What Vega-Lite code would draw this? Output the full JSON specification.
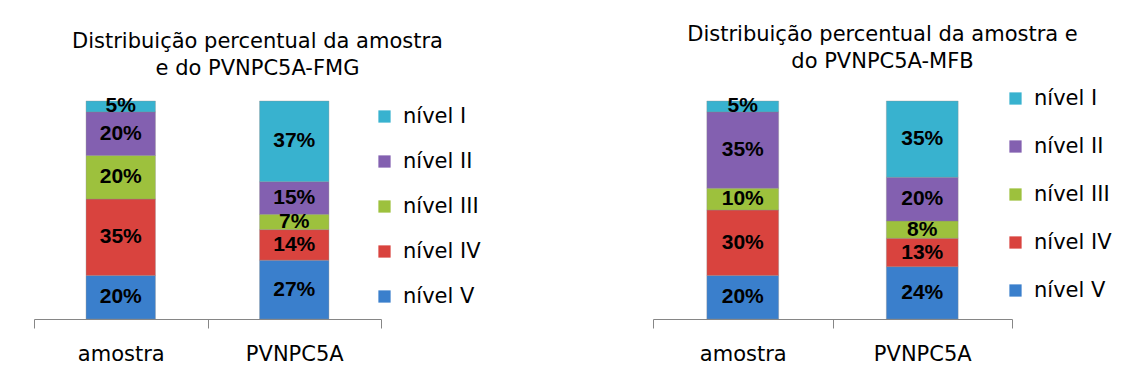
{
  "$schema": "https://vega.github.io/schema/vega-lite/v6.json",
  "padding": {"left": 33, "top": 24, "right": 5, "bottom": 5},
  "background": "white",
  "bounds": "flush",
  "spacing": 272,
  "datasets": {
    "d": [
      {"panel": "FMG", "cat": "amostra", "level": "nível V", "ord": 1, "v": 0.20},
      {"panel": "FMG", "cat": "amostra", "level": "nível IV", "ord": 2, "v": 0.35},
      {"panel": "FMG", "cat": "amostra", "level": "nível III", "ord": 3, "v": 0.20},
      {"panel": "FMG", "cat": "amostra", "level": "nível II", "ord": 4, "v": 0.20},
      {"panel": "FMG", "cat": "amostra", "level": "nível I", "ord": 5, "v": 0.05},
      {"panel": "FMG", "cat": "PVNPC5A", "level": "nível V", "ord": 1, "v": 0.27},
      {"panel": "FMG", "cat": "PVNPC5A", "level": "nível IV", "ord": 2, "v": 0.14},
      {"panel": "FMG", "cat": "PVNPC5A", "level": "nível III", "ord": 3, "v": 0.07},
      {"panel": "FMG", "cat": "PVNPC5A", "level": "nível II", "ord": 4, "v": 0.15},
      {"panel": "FMG", "cat": "PVNPC5A", "level": "nível I", "ord": 5, "v": 0.37},
      {"panel": "MFB", "cat": "amostra", "level": "nível V", "ord": 1, "v": 0.20},
      {"panel": "MFB", "cat": "amostra", "level": "nível IV", "ord": 2, "v": 0.30},
      {"panel": "MFB", "cat": "amostra", "level": "nível III", "ord": 3, "v": 0.10},
      {"panel": "MFB", "cat": "amostra", "level": "nível II", "ord": 4, "v": 0.35},
      {"panel": "MFB", "cat": "amostra", "level": "nível I", "ord": 5, "v": 0.05},
      {"panel": "MFB", "cat": "PVNPC5A", "level": "nível V", "ord": 1, "v": 0.24},
      {"panel": "MFB", "cat": "PVNPC5A", "level": "nível IV", "ord": 2, "v": 0.13},
      {"panel": "MFB", "cat": "PVNPC5A", "level": "nível III", "ord": 3, "v": 0.08},
      {"panel": "MFB", "cat": "PVNPC5A", "level": "nível II", "ord": 4, "v": 0.20},
      {"panel": "MFB", "cat": "PVNPC5A", "level": "nível I", "ord": 5, "v": 0.35}
    ]
  },
  "resolve": {"scale": {"color": "independent", "x": "independent", "y": "independent"}, "legend": {"color": "independent"}},
  "hconcat": [
    {
      "width": 347,
      "height": 218,
      "title": {"text": ["Distribuição percentual da amostra", "e do PVNPC5A-FMG"], "dx": 50, "offset": 16},
      "data": {"name": "d"},
      "transform": [{"filter": "datum.panel === 'FMG'"}],
      "layer": [
        {
          "mark": {"type": "bar", "width": {"band": 0.4}, "stroke": "#8a8a8a", "strokeOpacity": 0.35, "strokeWidth": 1},
          "encoding": {
            "x": {"field": "cat", "type": "nominal", "sort": ["amostra", "PVNPC5A"], "scale": {"paddingInner": 0, "paddingOuter": 0}},
            "y": {"field": "v", "type": "quantitative", "stack": "zero", "scale": {"domain": [0, 1]}, "axis": null},
            "order": {"field": "ord", "type": "quantitative"},
            "color": {
              "field": "level", "type": "nominal",
              "scale": {"domain": ["nível I", "nível II", "nível III", "nível IV", "nível V"], "range": ["#38B2CF", "#8360B0", "#9DC13D", "#D9433E", "#3A7FCC"]},
              "legend": {"orient": "none", "legendX": 340, "legendY": 5, "rowPadding": 23}
            }
          }
        },
        {
          "transform": [
            {"stack": "v", "groupby": ["cat"], "sort": [{"field": "ord", "order": "ascending"}], "as": ["y0", "y1"]},
            {"fold": ["y0", "y1"], "as": ["edge", "pos"]},
            {"aggregate": [{"op": "mean", "field": "pos", "as": "mid"}], "groupby": ["cat", "level", "v"]}
          ],
          "mark": {"type": "text", "font": "Liberation Sans", "fontWeight": "bold", "fontSize": 21, "color": "#000000", "baseline": "middle"},
          "encoding": {
            "x": {"field": "cat", "type": "nominal", "sort": ["amostra", "PVNPC5A"]},
            "y": {"field": "mid", "type": "quantitative"},
            "text": {"field": "v", "type": "quantitative", "format": ".0%"}
          }
        }
      ]
    },
    {
      "width": 359,
      "height": 218,
      "title": {"text": ["Distribuição percentual da amostra e", "do PVNPC5A-MFB"], "dx": 50, "offset": 16},
      "data": {"name": "d"},
      "transform": [{"filter": "datum.panel === 'MFB'"}],
      "layer": [
        {
          "mark": {"type": "bar", "width": {"band": 0.4}, "stroke": "#8a8a8a", "strokeOpacity": 0.35, "strokeWidth": 1},
          "encoding": {
            "x": {"field": "cat", "type": "nominal", "sort": ["amostra", "PVNPC5A"], "scale": {"paddingInner": 0, "paddingOuter": 0}},
            "y": {"field": "v", "type": "quantitative", "stack": "zero", "scale": {"domain": [0, 1]}, "axis": null},
            "order": {"field": "ord", "type": "quantitative"},
            "color": {
              "field": "level", "type": "nominal",
              "scale": {"domain": ["nível I", "nível II", "nível III", "nível IV", "nível V"], "range": ["#38B2CF", "#8360B0", "#9DC13D", "#D9433E", "#3A7FCC"]},
              "legend": {"orient": "none", "legendX": 352, "legendY": -13, "rowPadding": 26}
            }
          }
        },
        {
          "transform": [
            {"stack": "v", "groupby": ["cat"], "sort": [{"field": "ord", "order": "ascending"}], "as": ["y0", "y1"]},
            {"fold": ["y0", "y1"], "as": ["edge", "pos"]},
            {"aggregate": [{"op": "mean", "field": "pos", "as": "mid"}], "groupby": ["cat", "level", "v"]}
          ],
          "mark": {"type": "text", "font": "Liberation Sans", "fontWeight": "bold", "fontSize": 21, "color": "#000000", "baseline": "middle"},
          "encoding": {
            "x": {"field": "cat", "type": "nominal", "sort": ["amostra", "PVNPC5A"]},
            "y": {"field": "mid", "type": "quantitative"},
            "text": {"field": "v", "type": "quantitative", "format": ".0%"}
          }
        }
      ]
    }
  ],
  "config": {
    "view": {"stroke": null},
    "font": "DejaVu Sans",
    "title": {"font": "DejaVu Sans", "fontSize": 21, "fontWeight": "normal", "color": "#000000", "lineHeight": 27, "anchor": "middle", "frame": "group"},
    "axisX": {
      "title": null, "labelAngle": 0, "tickBand": "extent", "domainColor": "#868686", "tickColor": "#868686",
      "tickSize": 9, "labelFont": "DejaVu Sans", "labelFontSize": 21, "labelColor": "#000000", "labelPadding": 15, "grid": false
    },
    "legend": {
      "title": null, "symbolType": "square", "symbolSize": 150, "symbolStrokeWidth": 0, "labelFont": "DejaVu Sans",
      "labelFontSize": 21, "labelColor": "#000000", "labelOffset": 8, "padding": 0
    }
  }
}
